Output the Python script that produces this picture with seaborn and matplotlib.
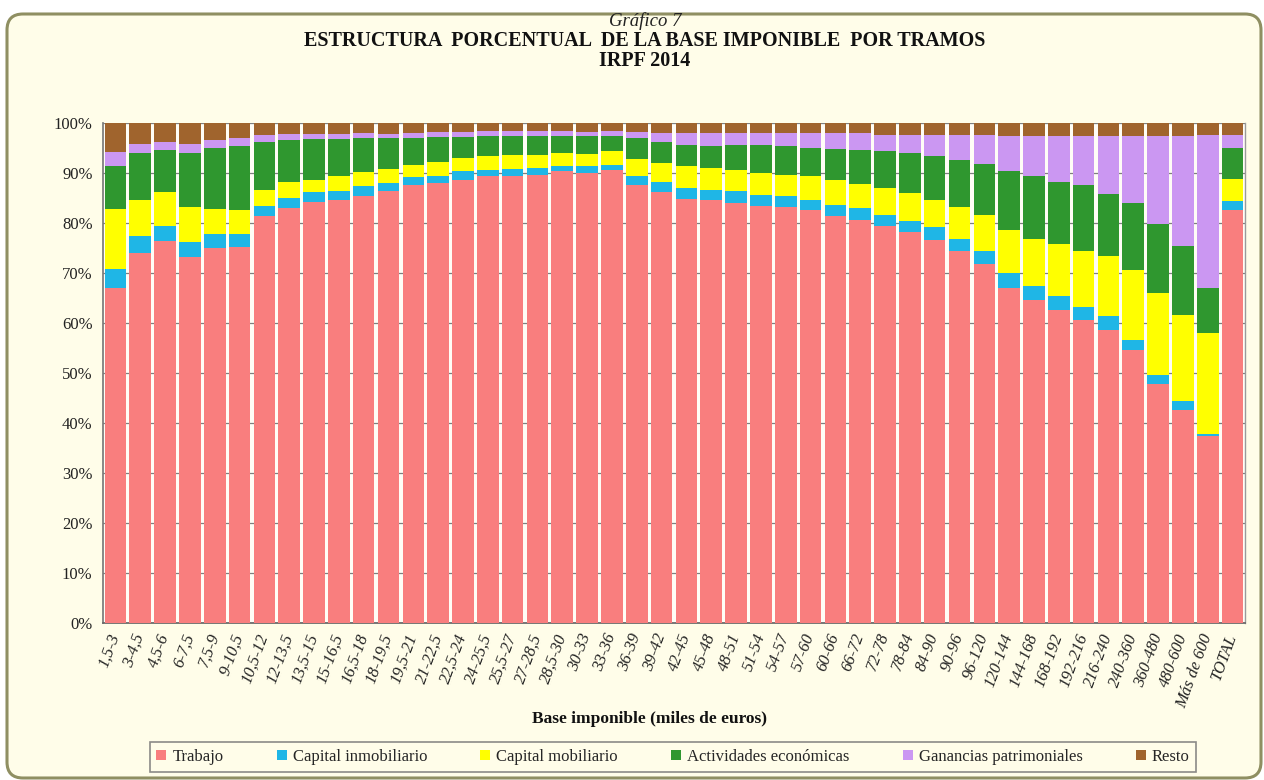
import numpy as np
import pandas as pd
import matplotlib
matplotlib.use("Agg")
import matplotlib.pyplot as plt
import seaborn as sns
from matplotlib.patches import FancyBboxPatch, Patch
from matplotlib.transforms import IdentityTransform

# ---------------- data ----------------
categories = ["1,5-3", "3-4,5", "4,5-6", "6-7,5", "7,5-9", "9-10,5", "10,5-12", "12-13,5",
              "13,5-15", "15-16,5", "16,5-18", "18-19,5", "19,5-21", "21-22,5", "22,5-24",
              "24-25,5", "25,5-27", "27-28,5", "28,5-30", "30-33", "33-36", "36-39", "39-42",
              "42-45", "45-48", "48-51", "51-54", "54-57", "57-60", "60-66", "66-72", "72-78",
              "78-84", "84-90", "90-96", "96-120", "120-144", "144-168", "168-192", "192-216",
              "216-240", "240-360", "360-480", "480-600", "Más de 600", "TOTAL"]

trabajo = [66.9, 73.9, 76.3, 73.1, 74.9, 75.1, 81.3, 82.9, 84.1, 84.5, 85.4, 86.3, 87.6, 87.9,
           88.6, 89.3, 89.4, 89.6, 90.3, 89.9, 90.6, 87.6, 86.1, 84.7, 84.6, 83.9, 83.4, 83.1,
           82.5, 81.4, 80.6, 79.4, 78.1, 76.5, 74.3, 71.7, 66.9, 64.6, 62.6, 60.6, 58.6, 54.6,
           47.9, 42.6, 37.4, 82.5]
capital_inmobiliario = [3.8, 3.4, 3.0, 3.0, 2.8, 2.8, 2.1, 2.0, 2.0, 1.9, 1.9, 1.6, 1.5, 1.4,
                        1.7, 1.3, 1.3, 1.3, 1.1, 1.4, 1.0, 1.7, 2.0, 2.2, 2.0, 2.4, 2.2, 2.3,
                        2.1, 2.2, 2.3, 2.2, 2.2, 2.6, 2.6, 2.7, 3.0, 2.7, 2.7, 2.5, 2.7, 2.0,
                        1.7, 1.7, 0.5, 1.8]
capital_mobiliario = [12.0, 7.3, 6.8, 7.0, 5.0, 4.7, 3.2, 3.2, 2.6, 2.9, 2.8, 2.9, 2.4, 2.8,
                      2.6, 2.8, 2.9, 2.7, 2.5, 2.5, 2.7, 3.4, 3.8, 4.4, 4.3, 4.3, 4.3, 4.2,
                      4.7, 4.9, 4.9, 5.3, 5.6, 5.5, 6.2, 7.2, 8.6, 9.6, 10.4, 11.3, 12.0, 14.0,
                      16.3, 17.3, 20.0, 4.4]
actividades_economicas = [8.6, 9.3, 8.5, 10.8, 12.2, 12.7, 9.5, 8.4, 8.0, 7.5, 6.8, 6.1, 5.4,
                          5.0, 4.2, 3.9, 3.7, 3.7, 3.5, 3.5, 3.1, 4.2, 4.2, 4.3, 4.6, 4.9, 5.6,
                          5.7, 5.6, 6.2, 6.8, 7.4, 8.0, 8.8, 9.6, 10.2, 11.8, 12.4, 12.4, 13.2,
                          12.5, 13.3, 13.9, 13.7, 9.0, 6.2]
ganancias_patrimoniales = [2.8, 1.9, 1.5, 1.9, 1.7, 1.6, 1.5, 1.3, 1.1, 1.0, 1.0, 0.9, 1.0, 1.0,
                           1.0, 1.0, 1.0, 1.0, 0.9, 0.9, 0.9, 1.2, 1.8, 2.3, 2.4, 2.4, 2.4, 2.6,
                           3.0, 3.2, 3.3, 3.3, 3.7, 4.2, 4.9, 5.8, 7.1, 8.0, 9.2, 9.7, 11.5, 13.4,
                           17.5, 22.0, 30.7, 2.7]
resto = [5.9, 4.2, 3.9, 4.2, 3.4, 3.1, 2.4, 2.2, 2.2, 2.2, 2.2, 2.2, 2.1, 1.9, 1.9, 1.7, 1.7,
         1.7, 1.7, 1.7, 1.7, 1.9, 2.1, 2.1, 2.1, 2.1, 2.1, 2.1, 2.1, 2.1, 2.1, 2.4, 2.4, 2.4,
         2.4, 2.4, 2.6, 2.7, 2.7, 2.7, 2.7, 2.7, 2.7, 2.7, 2.4, 2.4]

series_names = ["Trabajo", "Capital inmobiliario", "Capital mobiliario",
                "Actividades económicas", "Ganancias patrimoniales", "Resto"]
series_values = [trabajo, capital_inmobiliario, capital_mobiliario,
                 actividades_economicas, ganancias_patrimoniales, resto]
series_colors = ["#F97E7E", "#1FB6E6", "#FFFF00", "#2F972F", "#CB97F2", "#A0642D"]

y_ticks = list(range(0, 101, 10))
y_tick_labels = [f"{v}%" for v in y_ticks]

# ---------------- figure ----------------
sns.set_theme(style="white")
plt.rcParams['font.family'] = ['Liberation Serif', 'DejaVu Serif']

W, H = 1264, 780
fig = plt.figure(figsize=(W / 100, H / 100), dpi=100, facecolor="white")

frame = FancyBboxPatch((7, 2), 1254, 764, boxstyle="round,pad=0,rounding_size=16",
                       transform=IdentityTransform(), facecolor="#FFFDE9",
                       edgecolor="#8F8F62", linewidth=2.2, zorder=-10)
fig.patches.append(frame)

ax = fig.add_axes([103 / W, (H - 623) / H, 1142 / W, 500 / H])
ax.set_zorder(5)
ax.set_facecolor("#FFFDF6")

df = pd.DataFrame({"categoria": categories})
cum = np.zeros(len(categories))
cums = []
for vals in series_values:
    cum = cum + np.asarray(vals, dtype=float)
    cums.append(cum.copy())

# draw stacked bars from top cumulative down (overlay technique)
for name, color, c in reversed(list(zip(series_names, series_colors, cums))):
    df["valor"] = c
    sns.barplot(data=df, x="categoria", y="valor", color=color, saturation=1,
                width=0.87, ax=ax, edgecolor="none", zorder=3, errorbar=None)

ax.set_xlim(-0.5, len(categories) - 0.5)
ax.set_ylim(0, 100)
ax.set_yticks(y_ticks)
ax.set_yticklabels(y_tick_labels, fontsize=12, color="#222222")
ax.set_xticks(range(len(categories)))
ax.set_xticklabels(categories, rotation=70, ha="right", va="center",
                   rotation_mode="anchor", fontsize=12, fontstyle="italic",
                   color="#222222")
ax.set_xticks(np.arange(-0.5, len(categories), 1), minor=True)
ax.tick_params(axis="x", which="major", length=0, pad=8)
ax.tick_params(axis="x", which="minor", length=4, color="#3A7A6A", direction="out")
ax.tick_params(axis="y", which="major", length=7, direction="inout", color="#555555", pad=4)

ax.yaxis.grid(True, color="#7F7F7F", linewidth=0.9, zorder=1)
ax.xaxis.grid(False)
ax.set_axisbelow(True)

ax.spines["top"].set_visible(False)
ax.spines["left"].set_color("#7A7A7A")
ax.spines["bottom"].set_color("#666666")
ax.spines["right"].set_color("#9A9A9A")
ax.spines["right"].set_linewidth(1.0)

ax.set_xlabel("")
ax.set_ylabel("")

# ---------------- titles ----------------
fig.text(645 / W, 1 - 21 / H, "Gráfico 7", ha="center", va="center",
         fontsize=13.5, fontstyle="italic", color="#222222")
fig.text(645 / W, 1 - 41 / H, "ESTRUCTURA  PORCENTUAL  DE LA BASE IMPONIBLE  POR TRAMOS",
         ha="center", va="center", fontsize=14.5, fontweight="bold", color="#111111")
fig.text(645 / W, 1 - 61 / H, "IRPF 2014", ha="center", va="center",
         fontsize=14.5, fontweight="bold", color="#111111")

fig.text(649 / W, 1 - 719 / H, "Base imponible (miles de euros)", ha="center",
         va="center", fontsize=12.5, fontweight="bold", color="#111111")

# ---------------- legend ----------------
handles = [Patch(facecolor=c, edgecolor="none", label=n)
           for n, c in zip(series_names, series_colors)]
leg = fig.legend(handles=handles, loc="center", ncol=6,
                 bbox_to_anchor=(673 / W, 1 - 757 / H), fontsize=12,
                 frameon=True, fancybox=False, handlelength=0.6, handleheight=0.6,
                 handletextpad=0.35, columnspacing=3.2, borderpad=0.4)
leg.get_frame().set_edgecolor("#6E6E6E")
leg.get_frame().set_facecolor("#FFFDE9")
leg.get_frame().set_linewidth(1.2)

fig.savefig("out.png", dpi=100, facecolor="white")
